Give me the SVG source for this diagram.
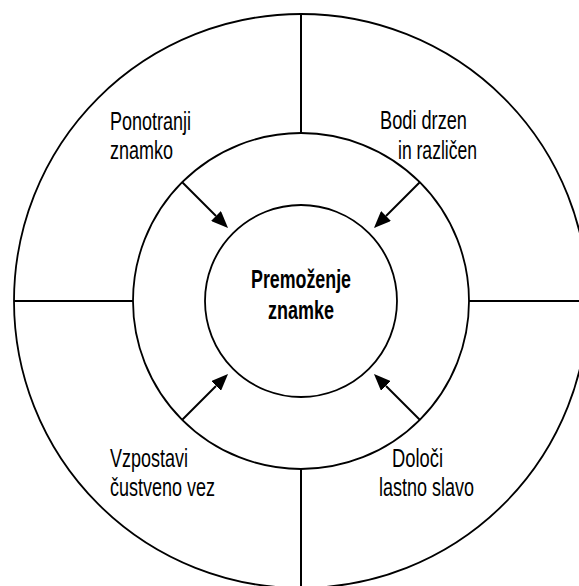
<svg xmlns="http://www.w3.org/2000/svg" width="579" height="586" viewBox="0 0 579 586">
  <style>
    .ring { fill: none; stroke: #000; stroke-width: 1.8; }
    .div { stroke: #000; stroke-width: 2; }
    .arr { stroke: #000; stroke-width: 2; fill: none; }
    .lbl { font-family: "Liberation Sans", Arial, sans-serif; font-size: 25px; fill: #000; }
    .ctr { font-family: "Liberation Sans", Arial, sans-serif; font-size: 25px; font-weight: bold; fill: #000; }
  </style>
  <defs>
    <marker id="head" viewBox="0 0 17 14" refX="0" refY="7" markerWidth="17" markerHeight="14" markerUnits="userSpaceOnUse" orient="auto">
      <path d="M0,0 L17,7 L0,14 z" fill="#000"/>
    </marker>
  </defs>
  <rect width="579" height="586" fill="#fff"/>

  <g id="outer-ring">
    <circle class="ring" cx="301" cy="301" r="287"/>
    <line class="div" x1="301" y1="14" x2="301" y2="133"/>
    <line class="div" x1="301" y1="469" x2="301" y2="586"/>
    <line class="div" x1="14" y1="301" x2="133" y2="301"/>
    <line class="div" x1="469" y1="301" x2="579" y2="301"/>
  </g>

  <g id="middle-ring">
    <circle class="ring" cx="301" cy="301" r="168"/>
  </g>

  <g id="center">
    <circle class="ring" cx="301" cy="301" r="96"/>
    <text class="ctr" x="301" y="288" text-anchor="middle" textLength="100" lengthAdjust="spacingAndGlyphs">Premoženje</text>
    <text class="ctr" x="301" y="319" text-anchor="middle" textLength="66" lengthAdjust="spacingAndGlyphs">znamke</text>
  </g>

  <g id="node-ponotranji">
    <text class="lbl" x="110" y="130" textLength="81" lengthAdjust="spacingAndGlyphs">Ponotranji</text>
    <text class="lbl" x="110" y="159" textLength="63" lengthAdjust="spacingAndGlyphs">znamko</text>
  </g>

  <g id="node-bodi">
    <text class="lbl" x="380" y="129" textLength="87" lengthAdjust="spacingAndGlyphs">Bodi drzen</text>
    <text class="lbl" x="398" y="159" textLength="79" lengthAdjust="spacingAndGlyphs">in različen</text>
  </g>

  <g id="node-vzpostavi">
    <text class="lbl" x="110" y="467" textLength="78" lengthAdjust="spacingAndGlyphs">Vzpostavi</text>
    <text class="lbl" x="110" y="496" textLength="105" lengthAdjust="spacingAndGlyphs">čustveno vez</text>
  </g>

  <g id="node-doloci">
    <text class="lbl" x="392" y="467" textLength="51" lengthAdjust="spacingAndGlyphs">Določi</text>
    <text class="lbl" x="379" y="496" textLength="95" lengthAdjust="spacingAndGlyphs">lastno slavo</text>
  </g>

  <g id="connectors">
    <line class="arr" x1="182" y1="182" x2="216" y2="216" marker-end="url(#head)"/>
    <line class="arr" x1="420" y1="182" x2="386" y2="216" marker-end="url(#head)"/>
    <line class="arr" x1="182" y1="420" x2="216" y2="386" marker-end="url(#head)"/>
    <line class="arr" x1="420" y1="420" x2="386" y2="386" marker-end="url(#head)"/>
  </g>
</svg>
